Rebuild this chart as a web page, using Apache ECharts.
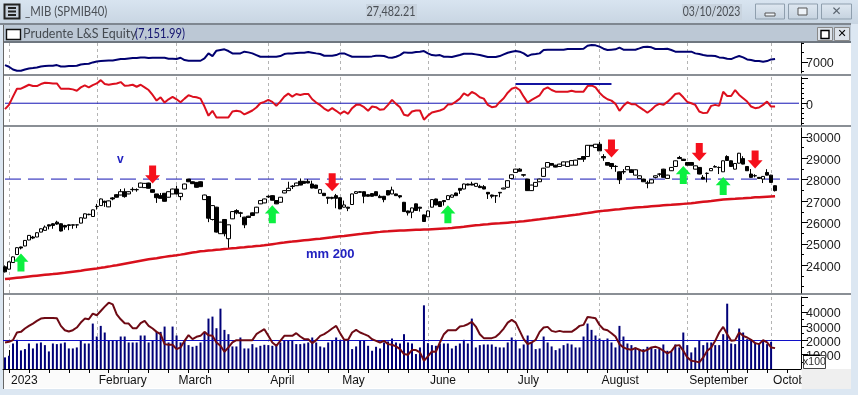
<!DOCTYPE html>
<html><head><meta charset="utf-8">
<style>html,body{margin:0;padding:0;background:#fff}#c{width:858px;height:395px}</style>
<script src="https://cdn.jsdelivr.net/npm/echarts@6/dist/echarts.min.js"></script>
</head><body><div id="c"></div>
<script>
const monthIndex=[1,23,43,66,84,106,128,149,171,192];
const monthLabels=['2023','February','March','April','May','June','July','August','September','October'];
// open, close, low, high
const ohlc=[
[23925,23690,23660,23990],[23815,24155,23800,24180],[24125,24390,24110,24410],[24500,24820,24490,24840],[24855,24805,24740,24870],[24900,25160,24890,25180],[25180,25395,25170,25410],[25320,25270,25220,25370],[25320,25520,25310,25540],[25550,25705,25540,25720],
[25630,25785,25620,25860],[25890,25830,25675,25900],[25940,25860,25705,25970],[26015,25925,25890,26080],[25940,25600,25580,25960],[25860,25785,25660,25890],[25890,25860,25640,25905],[25890,25875,25705,25900],[25885,25890,25735,25900],[25970,26220,25960,26235],
[26200,26405,26190,26420],[26365,26385,26340,26410],[26280,26590,26270,26605],[26745,26755,26605,26870],[26790,27100,26780,27120],[26990,26945,26730,27020],[26730,27010,26720,27025],[27150,27100,27040,27190],[27300,27180,27170,27330],[27285,27440,27275,27565],
[27440,27210,27160,27595],[27335,27440,27325,27455],[27535,27550,27440,27645],[27535,27535,27440,27595],[27645,27845,27635,27860],[27630,27830,27620,27845],[27845,27600,27590,27860],[27535,27410,27400,27560],[27335,27160,26915,27335],[27255,27130,27120,27380],
[27365,26990,26980,27380],[27180,27440,27170,27455],[27335,27565,27325,27580],[27565,27335,27320,27720],[27210,27365,27040,27380],[27565,27800,27555,27815],[28030,27905,27890,28045],[27905,27815,27800,27920],[27875,27645,27630,27890],[27905,27675,27660,27920],
[27070,27285,27060,27300],[27210,26200,26015,27225],[26140,26790,26095,26805],[26715,25550,25530,26730],[25475,26015,25460,26030],[26140,25475,25350,26155],[25240,25890,24775,25900],[26170,26510,26160,26530],[26555,26450,26380,26620],[26450,26430,26250,26500],
[26250,25890,25735,26265],[26295,26235,26220,26310],[26450,26325,26310,26465],[26450,26715,26440,26730],[26870,27025,26860,27040],[26915,27100,26905,27115],[27225,27195,27150,27270],[27255,27040,27030,27270],[27025,26870,26860,27040],[26945,27180,26935,27195],
[27380,27490,27370,27505],[27490,27600,27480,27905],[27680,27700,27565,27750],[27720,27845,27710,27860],[27925,27750,27740,28060],[27925,27830,27820,27940],[27925,27845,27835,28030],[27800,27610,27600,27955],[27750,27600,27590,27765],[27365,27535,27355,27550],
[27365,27255,27245,27380],[27180,27130,26870,27195],[27175,27130,27080,27200],[27255,27130,26665,27335],[27160,26635,26625,27175],[26715,26820,26705,27025],[26715,26665,26530,26730],[26840,27335,26830,27350],[27360,27440,27350,27470],[27440,27410,27400,27470],
[27440,27225,26900,27455],[27300,27225,27215,27315],[27350,27225,27215,27365],[27440,27255,27245,27455],[27225,27160,27150,27300],[27225,27070,26945,27240],[27490,27285,27275,27505],[27335,27520,27325,27675],[27335,27255,27245,27350],[27255,27195,27130,27270],
[26945,26510,26500,26960],[26540,26450,26325,26555],[26480,26680,26200,26695],[26870,26560,26550,26885],[26715,26665,26510,26730],[26355,26045,26035,26370],[26265,26540,26255,26555],[26715,27070,26705,27085],[27100,26820,26810,27115],[26975,26745,26735,26990],
[27025,26975,26790,27040],[27070,27255,27060,27270],[27180,27285,27170,27300],[27380,27255,27245,27395],[27595,27505,27335,27610],[27565,27800,27555,27815],[27800,27750,27740,27815],[27800,27750,27740,27905],[27690,27830,27680,27845],[27690,27630,27620,27765],
[27675,27565,27555,27750],[27410,27335,27100,27425],[27285,27225,27130,27300],[27255,27240,26915,27285],[27380,27410,27180,27425],[27565,27610,27555,27625],[27645,27955,27635,27970],[28060,28230,28050,28245],[28340,28495,28330,28510],[28495,28400,28390,28540],
[28235,28215,28140,28260],[28030,27490,27480,28045],[27490,27750,27480,27765],[27690,27875,27680,27890],[27905,28030,27895,28045],[28155,28540,28145,28555],[28590,28805,28580,28820],[28760,28680,28670,28775],[28680,28590,28580,28695],[28620,28730,28610,28745],
[28680,28835,28670,28850],[28620,28835,28610,28850],[28680,28895,28670,28910],[28680,28915,28670,28930],[28990,28960,28950,29005],[29085,28960,28835,29100],[29085,29610,29075,29625],[29610,29580,29570,29625],[29505,29660,29495,29675],[29660,29350,29340,29765],
[29085,29025,28885,29195],[28805,28680,28670,28820],[28760,28620,28495,28775],[28625,28620,28370,28680],[28370,28000,27800,28385],[28365,28380,28260,28495],[28465,28620,28455,28635],[28465,28340,28330,28480],[28215,28465,28205,28480],[28060,28185,28050,28200],
[28030,27905,27895,28045],[27850,27840,27600,27950],[27845,28000,27835,28015],[28110,28185,28060,28200],[28260,28265,28155,28300],[28495,28110,28100,28510],[28060,28215,28050,28230],[28420,28575,28410,28590],[28620,28885,28610,28900],[29040,28990,28980,29115],
[28960,28900,28890,28975],[28805,28680,28670,28820],[28805,28680,28670,28820],[28495,28650,28485,28665],[28575,28265,28255,28590],[28110,28030,28020,28215],[28295,28300,27875,28340],[28420,28525,28410,28540],[28590,28620,28580,28680],[28575,28570,28265,28620],
[28370,28885,28360,28900],[29085,28900,28890,29145],[28885,28620,28610,28900],[28495,28760,28485,28775],[28775,29240,28765,29255],[28990,28730,28720,29100],[28620,28420,28410,28635],[28265,28110,28100,28500],[28190,28180,28110,28260],[28110,28060,28050,28125],
[28030,28155,27845,28170],[28340,28215,28205,28495],[28215,27875,27865,28230],[27720,27490,27450,27735]
];
const ma200=[23350,23370,23390,23410,23430,23450,23470,23490,
23510,23530,23550,23570,23585,23605,23625,23645,
23670,23695,23720,23745,23775,23800,23825,23850,23877,
23905,23935,23970,24000,
24035,24070,24105,24140,24175,24210,24245,24280,
24305,24330,24360,24390,24415,24440,24466,
24495,24525,24560,24590,24620,24652,
24670,24690,24705,24725,24740,24760,24776,
24795,24810,24830,24845,24865,24880,24900,24915,24931,
24955,24985,25010,25035,25060,25086,
25105,25125,25145,25165,25185,25205,25225,25241,
25265,25285,25305,25330,25350,
25370,25395,25415,25435,25455,25480,25500,25520,25540,25560,25582,
25590,25600,25610,25620,25625,25635,25645,25655,25660,25670,25675,
25685,25695,25705,25715,25725,25737,
25760,25780,25800,25825,25845,25865,25885,25908,
25920,25935,25950,25960,25975,25990,26005,26016,
26040,26060,26085,26105,26130,26150,26175,26195,26220,26240,26265,26290,26310,26335,26357,
26385,26415,26440,26470,26500,26527,
26545,26565,26585,26605,26620,26640,26660,26680,26698,
26712,26725,26740,26755,26770,26785,26800,26815,26825,26840,26855,26870,26884,
26900,26920,26945,26965,26985,27005,27030,27050,27070,
27085,27100,27110,27125,27135,27150,27160,27175,27185,27195,27205,27215,27225];
const equity=[6821,6732,6589,6518,6518,6589,6643,6661,6696,6750,6768,6786,6786,6821,6750,6750,6768,6768,6786,6857,6875,6893,6964,7018,7036,7054,7071,7071,7107,7143,7143,7179,7196,7196,7232,7232,7196,7214,7214,7214,7214,7161,7161,7143,7214,7089,7054,7054,7054,7054,7179,7446,7304,7589,7625,7661,7572,7446,7446,7446,7536,7500,7446,7357,7268,7268,7268,7268,7268,7304,7411,7446,7446,7464,7482,7482,7518,7482,7446,7411,7321,7321,7321,7357,7446,7446,7357,7268,7268,7268,7268,7268,7286,7321,7321,7304,7232,7214,7268,7357,7500,7482,7482,7518,7536,7572,
7446,7357,7339,7357,7268,7268,7250,7304,7357,7429,7429,7429,7393,7357,7304,7250,7250,7250,7304,7393,7482,7536,7572,7536,7446,7304,7393,7411,7446,7625,7643,7643,7643,7643,7643,7679,7679,7679,7679,7696,7857,7893,7875,7804,7696,7625,7643,7661,7750,7643,7643,7643,7643,7714,7786,7804,7768,7679,7679,7679,7696,7625,7536,7536,7536,7536,7536,7446,7411,7357,7321,7321,7304,7232,7214,7161,7143,7232,7304,7232,7125,7089,7036,7036,7000,7036,7125,7152];
const oscillator=[-12,-3.3,13.3,29.3,29.3,33.3,37.3,34.7,34.7,38.7,41.3,40.7,40,40,29.3,29.3,29.3,28,25.3,32,36,32,36.7,40,46.7,38.7,37.3,38.7,40,42.7,35.3,36,37.3,33.3,37.3,32,26.7,16.7,5.3,12,1.3,8,12.7,8,2,9.3,16,13.3,12,9.3,-6.7,-25.3,-15.3,-28.7,-28.7,-28.7,-28.7,-16.7,-15.3,-16.7,-22.7,-18.7,-14.7,-8.7,0,2.7,6.7,2.7,-5.3,3.3,13.3,19.3,13.3,18.7,16.7,18.7,18.7,8,1.3,-4,-10.7,-15.3,-10,-15.3,-21.3,-16.7,-21.3,-10,-3.3,-3.3,-8,-15.3,-6.7,-8,-13.3,-12,-3.3,6.7,-1.3,-8,-23.3,-25.3,-16.7,-14.7,-14.7,-33.3,-25,
-18.7,-16.7,-14.7,-11.3,-2.7,-2,3.3,9.3,20,15.3,22.7,18.7,12,9.3,-3.3,-8,-6.7,2.7,10,21.3,29.3,32,26.7,13.3,1.3,6.7,11.3,16,28,32,26.7,23.3,23.3,23.3,23.3,25.3,23.3,23.3,23.3,34.7,36,32,21.3,13.3,8,5.3,-1.3,-15.3,-5.3,2,-2,-2,-8,-13.3,-19.3,-13.3,-5.3,-1.3,-3.3,2.7,10,18.7,20,12,2.7,0,-3.3,-16.7,-20,-19.3,-5.3,-3.3,-5.3,23.3,14.7,14.7,26.7,16.7,10,3.3,-6.7,-10,-8.7,-3.3,3.3,-6.7,-6.7];
const volume=[8140,9300,17900,20470,13030,13960,17900,14420,17900,18610,16750,12330,17900,17450,17900,18610,14420,14420,15120,19770,17900,17900,31870,22790,30240,25590,19770,19770,19770,22790,22790,18610,18610,18610,23490,23490,18610,19770,26050,26050,29770,18610,29770,23490,18610,19770,16750,15580,16280,18610,25590,35360,36750,28610,42330,27450,24420,15820,15820,22100,14420,14420,17450,15120,16280,16980,16750,16280,17450,18610,19770,19770,19770,17450,17450,17900,18610,22100,18610,15820,15120,18610,19770,22100,20470,20470,20470,13960,15820,19770,19770,16280,12790,15580,14420,18610,19310,21400,18610,17900,24420,18610,17900,10470,15120,44660,18140,
16750,16280,17900,17900,17900,14420,16280,17900,20470,17900,35360,15120,16750,17210,17210,17210,15580,15120,15120,18610,22100,19770,14420,17210,23490,18610,13960,14420,22790,18610,15820,13260,14420,16750,17900,17210,15120,15120,22790,31870,27450,23490,21400,19770,21400,18610,15120,30240,22790,17900,16750,15120,13960,13960,15580,15120,13960,14420,17210,12790,12100,17210,15120,25590,16750,11630,15120,19770,16750,18610,18610,16750,16750,24420,45820,17900,17450,28380,25590,20930,20240,18610,17900,19770,17450,19070,null];
const volumeAvg=[18610,19070,20240,25590,26050,28380,30240,31870,33730,35360,35820,35820,35820,35590,30240,27210,26280,27210,29080,32560,35360,34890,38840,37680,40700,43730,46520,45360,38380,34890,32100,31870,28610,28610,32100,33730,30240,28380,26050,24420,17450,16980,16980,13960,15120,19770,23730,20930,22560,23260,26050,23730,23260,18610,16280,12100,15120,18610,20240,20240,20240,20240,20240,24420,26280,27910,23260,18610,16280,19770,23260,23260,23260,25120,22790,20930,20930,18140,20240,23260,24420,26280,28380,30240,25120,20470,20470,25590,27450,25590,24420,23260,20930,19770,18610,19770,17450,16980,15820,13960,10470,10000,13260,13260,11630,5820,8840,
12330,12100,18610,24420,27210,27210,27210,29770,30240,31400,33030,29770,24420,21630,21630,21630,22560,25120,28380,32560,34430,32560,26750,20930,17450,18610,20470,26050,29080,29540,26750,26050,26750,26050,26050,26050,27910,30240,30940,36520,36050,35590,30940,27910,27210,25120,22790,17450,15120,13960,13490,14650,13490,12330,13490,15120,15580,14650,12790,10930,12330,16280,16750,12790,8140,5820,5350,4650,8140,12790,15120,19770,25590,29540,24420,19770,20240,25590,23260,22100,20470,18140,17450,20240,18610,15120,14650];
const resistanceFrom=128, resistanceTo=152, resistanceLevel=38.7;
const pivotLevel=28030;
const zeroLevel=0;
const volumeLevel=20000;
const downIdx=[37,82,152,174,188], downVal=[28250,27876,29457,29300,28945];
const upIdx=[4,67,111,170,180], upVal=[24125,26388,26388,28217,27705];
const mainLabels=[24000,25000,26000,27000,28000,29000,30000];
const mainMinor=[23000,23500,24500,25500,26500,27500,28500,29500];
const volLabels=[10000,20000,30000,40000];
const volMajor=[10000,20000,30000,40000,50000];
const volMinor=[5000,15000,25000,35000,45000];

const PADDED=200;
const cats=Array.from({length:PADDED},(_,i)=>String(i));
const isMonth=i=>monthIndex.indexOf(i)>=0;
const FONT='"Lato"';
const AXF='"Liberation Sans"';
const GL=3,GW=798;
const grids=[{t:43,h:30},{t:77,h:48},{t:128,h:165},{t:297,h:72}].map(g=>({left:GL,width:GW,top:g.t,height:g.h}));
const dashGrid={show:true,alignWithLabel:true,interval:(i)=>isMonth(i),lineStyle:{color:'#b4b4b4',type:[3,3],width:1}};
const baseX=(gi,extra)=>Object.assign({type:'category',gridIndex:gi,data:cats,boundaryGap:true,axisLine:{show:false},axisTick:{show:false},axisLabel:{show:false},splitLine:dashGrid},extra||{});
const xAxis=[baseX(0),baseX(1),baseX(2),
 baseX(3,{axisLine:{show:true,onZero:false,lineStyle:{color:'#000',width:1}},
   axisTick:{show:true,alignWithLabel:true,length:4,interval:(i)=>(i-1)%5===0&&i<=196,lineStyle:{color:'#000'}},
   axisLabel:{show:true,interval:(i)=>isMonth(i),align:'left',margin:6,padding:[0,0,0,2],color:'#111',fontFamily:AXF,fontSize:12,
     formatter:(v,i)=>monthLabels[monthIndex.indexOf(+v)]||''}}),
 baseX(3,{splitLine:{show:false},axisTick:{show:true,alignWithLabel:true,length:19,interval:(i)=>isMonth(i),lineStyle:{color:'#000'}}})
];
const yMajor=(gi,min,max,ticks,labels,fmt)=>({type:'value',gridIndex:gi,min,max,position:'right',splitLine:{show:false},
  axisLine:{show:true,onZero:false,lineStyle:{color:'#000',width:1}},
  axisTick:{show:true,length:7,customValues:ticks,lineStyle:{color:'#000'}},
  axisLabel:{show:true,customValues:labels,margin:5,verticalAlign:'top',lineHeight:4,color:'#222',fontFamily:AXF,fontSize:12.5,formatter:fmt||(v=>String(v))}});
const yMinor=(gi,min,max,ticks)=>({type:'value',gridIndex:gi,min,max,position:'right',splitLine:{show:false},
  axisLine:{show:false},axisTick:{show:true,length:3,customValues:ticks,lineStyle:{color:'#000'}},axisLabel:{show:false}});
const yAxis=[
 yMajor(0,6400,8000,[7000],[7000]),yMinor(0,6400,8000,[6500,7500,8000]),
 yMajor(1,-44,53,[0,50],[0]),yMinor(1,-44,53,[-40,-30,-20,-10,10,20,30,40]),
 yMajor(2,22700,30420,mainLabels,mainLabels),yMinor(2,22700,30420,mainMinor),
 yMajor(3,0,50500,volMajor,volLabels),yMinor(3,0,50500,volMinor)
];
const hline=(v,color,type,w)=>({silent:true,symbol:'none',animation:false,label:{show:false},lineStyle:{color,type:type||'solid',width:w||1},emphasis:{disabled:true},data:[{yAxis:v}]});
const ARROW_UP='path://M7.5 0L15 8L11 8L11 17.5L4 17.5L4 8L0 8Z';
const ARROW_DOWN='path://M4 0L11 0L11 9.5L15 9.5L7.5 17.5L0 9.5L4 9.5Z';
const series=[
 {type:'line',name:'Equity',xAxisIndex:0,yAxisIndex:0,data:equity,showSymbol:false,lineStyle:{color:'#000070',width:2},z:3},
 {type:'line',name:'Zero',xAxisIndex:1,yAxisIndex:2,data:[[0,zeroLevel],[PADDED-1,zeroLevel]],showSymbol:false,lineStyle:{color:'#1414b4',width:1},z:2},
 {type:'line',name:'Oscillator',xAxisIndex:1,yAxisIndex:2,data:oscillator,showSymbol:false,lineStyle:{color:'#dc0f1e',width:2},z:3},
 {type:'line',name:'Resistance',xAxisIndex:1,yAxisIndex:2,data:[[resistanceFrom,resistanceLevel],[resistanceTo,resistanceLevel]],showSymbol:false,lineStyle:{color:'#1414a0',width:2},z:4},
 {type:'line',name:'Pivot',xAxisIndex:2,yAxisIndex:4,data:[[0,pivotLevel],[PADDED-1,pivotLevel]],showSymbol:false,lineStyle:{color:'#1414b4',width:1,type:[16,7]},z:2},
 {type:'candlestick',name:'MIB',xAxisIndex:2,yAxisIndex:4,data:ohlc,barWidth:4,itemStyle:{color:'#fff',color0:'#000',borderColor:'#000',borderColor0:'#000',borderWidth:1},z:3},
 {type:'line',name:'mm 200',xAxisIndex:2,yAxisIndex:4,data:ma200,showSymbol:false,lineStyle:{color:'#d8101c',width:2.5},z:4},
 {type:'scatter',name:'Sell',xAxisIndex:2,yAxisIndex:4,data:downIdx.map((x,i)=>[x,downVal[i]]),symbol:ARROW_DOWN,symbolSize:[15,18],itemStyle:{color:'#f5101c',opacity:1},z:6},
 {type:'scatter',name:'Buy',xAxisIndex:2,yAxisIndex:4,data:upIdx.map((x,i)=>[x,upVal[i]]),symbol:ARROW_UP,symbolSize:[15,18],itemStyle:{color:'#0cf040',opacity:1},z:6},
 {type:'bar',name:'Volume',xAxisIndex:3,yAxisIndex:6,data:volume,barWidth:2,itemStyle:{color:'#000078'},z:3,markLine:hline(volumeLevel,'#1010c8','solid',1.2)},
 {type:'line',name:'Volume avg',xAxisIndex:3,yAxisIndex:6,data:volumeAvg,showSymbol:false,lineStyle:{color:'#6e0a14',width:2},z:5}
];
const R=(x,y,w,h,fill,z,extra)=>Object.assign({type:'rect',shape:{x,y,width:w,height:h},style:Object.assign({fill},extra||{}),z,silent:true});
const T=(x,y,text,font,fill,z,align,sx)=>({type:'text',x,y,z:z||60,silent:true,scaleX:sx||1,style:{text,font,fill,textAlign:align||'left',textVerticalAlign:'middle'}});
const vg=(c1,c2)=>({type:'linear',x:0,y:0,x2:0,y2:1,colorStops:[{offset:0,color:c1},{offset:1,color:c2}]});
const btn=(x,w)=>R(x,4,w,15,vg('#dfe8f1','#c5d2df'),60,{stroke:'#8f9fae',lineWidth:1});
const graphic=[
 R(0,0,858,395,'#dce7f2',-30),
 R(0,0,858,24,vg('#d8e4f0','#c8d5e2'),-29),
 R(0,23,851,2,'#7f8790',-28),
 R(3,25,848,17,'#bcc8d5',-28),
 R(4,43,847,346,'#ffffff',-27),
 R(4,369,797,19,'#fbfbfb',-26),
 R(3,41,848,2,'#6f7780',-25),
 R(3,74,848,2,'#8a8f95',-25),
 R(3,125,848,2,'#8a8f95',-25),
 R(3,293,848,2,'#8a8f95',-25),
 R(3,25,1,364,'#666',-24),
 // title bar icon
 R(4.5,4.5,15,14,'#c6d0dc',60,{stroke:'#222',lineWidth:2}),
 R(8,7,8,2,'#222',61),R(8,10.5,8,2,'#222',61),R(8,14,8,2,'#222',61),
 T(25,12,'_MIB (SPMIB40)','13.5px '+FONT,'#4a4f55',60,'left',0.84),
 R(366,4,51,16,'#c9d4df',59),
 T(391,12,'27,482.21','13px '+FONT,'#4a4f55',60,'center',0.83),
 R(682,4,60,16,'#c9d4df',59),
 T(711.5,12,'03/10/2023','13px '+FONT,'#4a4f55',60,'center',0.8),
 btn(755.5,29),btn(788.5,29),btn(821.5,30),
 R(765,13,10,3,'#eef3f8',61,{stroke:'#555',lineWidth:1}),
 R(798,8,9,7,'#eef3f8',61,{stroke:'#555',lineWidth:1}),
 T(836.5,12,'✕','bold 12px "DejaVu Sans"','#59636e',61,'center'),
 // panel title
 R(6.5,29.5,14,10,'#ffffff',60,{stroke:'#111',lineWidth:1.4}),
 T(23,34,'Prudente L&S Equity','13px '+FONT,'#444a50',60,'left',0.96),
 T(135,34,'(7,151.99)','13px '+FONT,'#12126e',60,'left',0.86),
 R(817.5,27.5,15,13,'#dde3ea',60,{stroke:'#888',lineWidth:1}),
 R(821,30.5,8,8,'#fff',61,{stroke:'#000',lineWidth:1.4}),
 R(834.5,27.5,15,13,'#dde3ea',60,{stroke:'#888',lineWidth:1}),
 T(842,34,'✕','bold 11px "DejaVu Sans"','#000',61,'center'),
 // annotations
 T(117,160,'v','bold 12px "Liberation Sans"','#2222c0'),
 T(306,254,'mm 200','bold 13px "Liberation Sans"','#2222c0'),
 // lower right: area past the axis, clips "October"
 R(801.5,369,49.5,20,'#efefef',70),
 R(803.5,355.5,22,13,'#ffffff',71,{stroke:'#444',lineWidth:1}),
 T(814.5,362.5,'x100','10.5px "Liberation Sans"','#333',72,'center'),
 R(803,354.5,17,1.5,'#000',72)
];
const chart=echarts.init(document.getElementById('c'),null,{renderer:'canvas'});
chart.setOption({animation:false,backgroundColor:'transparent',grid:grids,xAxis,yAxis,series,graphic:{elements:graphic}});
</script></body></html>
